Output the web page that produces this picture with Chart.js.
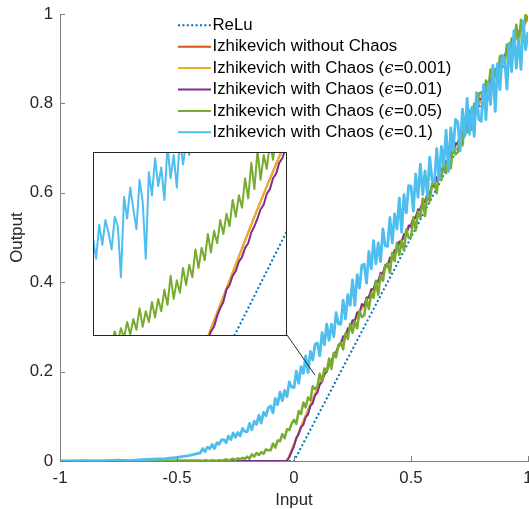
<!DOCTYPE html>
<html><head><meta charset="utf-8">
<script src="https://cdn.jsdelivr.net/npm/chart.js@4/dist/chart.umd.min.js"></script>
<style>
html,body{margin:0;padding:0;background:#fff;overflow:hidden}
#wrap{position:relative;width:529px;height:509px;background:#fff}
#main{position:absolute;left:0;top:0}
#insetBox{position:absolute;left:93px;top:152px;width:194px;height:184px;background:#fff}
#inset{display:block}
</style></head><body>
<div id="wrap"><canvas id="main" width="529" height="509"></canvas>
<div id="insetBox"><canvas id="inset" width="194" height="184"></canvas></div></div>
<script>
// ---------------- DATA ----------------
const seriesLabels = ['ReLu','Izhikevich without Chaos','Izhikevich with Chaos (ϵ=0.001)','Izhikevich with Chaos (ϵ=0.01)','Izhikevich with Chaos (ϵ=0.05)','Izhikevich with Chaos (ϵ=0.1)'];
const xTickValues = [-1,-0.5,0,0.5,1];
const xTickLabels = ['-1','-0.5','0','0.5','1'];
const yTickValues = [0,0.2,0.4,0.6,0.8,1];
const yTickLabels = ['0','0.2','0.4','0.6','0.8','1'];

const reluX = [-1,0,1];
const reluY = [0,0,1];

const smoothX = [-1,-0.03,-0.02,-0.01,0,0.02,0.04,0.06,0.08,0.1,0.15,0.2,0.3,0.4,0.5,0.6,0.7,0.8,0.9,1];
const noChaosY = [0,0,0.011,0.024,0.037,0.063,0.089,0.114,0.138,0.161,0.216,0.265,0.35,0.44,0.53,0.62,0.713,0.808,0.903,0.99];
const eps001Y  = [0,0,0.011,0.024,0.037,0.063,0.089,0.114,0.138,0.161,0.216,0.265,0.35,0.44,0.53,0.62,0.713,0.808,0.903,0.99];

const inputX = [
-1,-0.95,-0.9,-0.85,-0.8,-0.75,-0.7,-0.65,-0.6,-0.55,-0.5,-0.45,
-0.4,-0.39,-0.38,-0.37,-0.36,-0.35,-0.34,-0.33,-0.32,-0.31,
-0.3,-0.29,-0.28,-0.27,-0.26,-0.25,-0.24,-0.23,-0.22,-0.21,
-0.2,-0.19,-0.18,-0.17,-0.16,-0.15,-0.14,-0.13,-0.12,-0.11,
-0.1,-0.09,-0.08,-0.07,-0.06,-0.05,-0.04,-0.03,-0.02,-0.01,
0,0.01,0.02,0.03,0.04,0.05,0.06,0.07,0.08,0.09,
0.1,0.11,0.12,0.13,0.14,0.15,0.16,0.17,0.18,0.19,
0.2,0.21,0.22,0.23,0.24,0.25,0.26,0.27,0.28,0.29,
0.3,0.31,0.32,0.33,0.34,0.35,0.36,0.37,0.38,0.39,
0.4,0.41,0.42,0.43,0.44,0.45,0.46,0.47,0.48,0.49,
0.5,0.51,0.52,0.53,0.54,0.55,0.56,0.57,0.58,0.59,
0.6,0.61,0.62,0.63,0.64,0.65,0.66,0.67,0.68,0.69,
0.7,0.71,0.72,0.73,0.74,0.75,0.76,0.77,0.78,0.79,
0.8,0.81,0.82,0.83,0.84,0.85,0.86,0.87,0.88,0.89,
0.9,0.91,0.92,0.93,0.94,0.95,0.96,0.97,0.98,0.99,
1];

const eps01Y = [
0,0,0,0,0,0,0,0,0,0,0,0,
0,0,0,0,0,0,0,0,0,0,
0,0,0,0,0,0,0,0,0,0,
0,0,0,0,0,0,0,0,0,0,
0,0,0,0,0,0,0,0.001,0.009,0.021,
0.033,0.052,0.060,0.076,0.081,0.098,0.104,0.123,0.129,0.147,
0.153,0.171,0.177,0.195,0.199,0.218,0.220,0.238,0.241,0.258,
0.261,0.279,0.279,0.297,0.296,0.315,0.314,0.333,0.332,0.351,
0.347,0.366,0.366,0.384,0.384,0.402,0.401,0.421,0.419,0.439,
0.435,0.455,0.453,0.472,0.471,0.491,0.489,0.508,0.507,0.527,
0.524,0.545,0.543,0.563,0.561,0.581,0.579,0.599,0.597,0.617,
0.614,0.635,0.633,0.653,0.651,0.671,0.670,0.691,0.690,0.711,
0.709,0.731,0.730,0.751,0.749,0.771,0.769,0.791,0.789,0.811,
0.809,0.830,0.828,0.849,0.847,0.868,0.866,0.887,0.885,0.906,
0.903,0.924,0.921,0.942,0.939,0.960,0.956,0.976,0.972,0.992,
0.990];

const eps05Y = [
0,0,0,0,0,0,0,0,0.001,0,0.001,0.001,
0.001,0.000,0.002,0.001,0.000,0.002,0.001,0.000,0.002,0.001,
0.002,0.004,0.001,0.003,0.005,0.002,0.006,0.004,0.007,0.005,
0.010,0.005,0.015,0.010,0.018,0.013,0.020,0.016,0.026,0.024,
0.024,0.039,0.030,0.046,0.044,0.060,0.051,0.071,0.069,0.084,
0.092,0.083,0.112,0.105,0.131,0.120,0.142,0.136,0.167,0.161,
0.167,0.195,0.179,0.207,0.200,0.229,0.206,0.242,0.232,0.260,
0.265,0.250,0.286,0.273,0.307,0.287,0.312,0.297,0.336,0.322,
0.326,0.362,0.340,0.376,0.365,0.403,0.372,0.417,0.403,0.437,
0.442,0.421,0.466,0.447,0.488,0.461,0.492,0.471,0.518,0.499,
0.502,0.544,0.516,0.558,0.543,0.587,0.548,0.601,0.581,0.621,
0.624,0.599,0.651,0.629,0.675,0.644,0.679,0.655,0.708,0.686,
0.691,0.737,0.706,0.752,0.736,0.784,0.741,0.799,0.778,0.822,
0.825,0.798,0.851,0.827,0.876,0.840,0.877,0.849,0.906,0.881,
0.884,0.932,0.897,0.945,0.925,0.976,0.927,0.987,0.961,0.999,
0.985];

const eps1Y = [
0.000,0.000,0.001,0.000,0.001,0.002,0.001,0.003,0.004,0.005,0.008,0.012,
0.018,0.028,0.021,0.031,0.027,0.037,0.028,0.041,0.037,0.047,
0.048,0.041,0.056,0.048,0.063,0.053,0.064,0.056,0.073,0.066,
0.065,0.084,0.070,0.089,0.082,0.102,0.085,0.109,0.101,0.119,
0.123,0.108,0.140,0.126,0.154,0.135,0.158,0.144,0.177,0.165,
0.164,0.201,0.174,0.211,0.196,0.235,0.198,0.245,0.226,0.261,
0.264,0.235,0.287,0.260,0.306,0.270,0.306,0.278,0.332,0.307,
0.306,0.360,0.318,0.372,0.348,0.405,0.348,0.417,0.387,0.438,
0.440,0.398,0.469,0.430,0.493,0.441,0.488,0.446,0.519,0.481,
0.480,0.545,0.488,0.553,0.519,0.588,0.512,0.596,0.555,0.616,
0.615,0.559,0.642,0.590,0.664,0.596,0.649,0.593,0.680,0.628,
0.624,0.699,0.629,0.704,0.661,0.740,0.648,0.745,0.694,0.764,
0.759,0.694,0.787,0.727,0.811,0.731,0.791,0.726,0.824,0.764,
0.760,0.842,0.764,0.846,0.798,0.885,0.782,0.889,0.831,0.908,
0.901,0.832,0.935,0.871,0.963,0.879,0.945,0.876,0.984,0.920,
0.960];

// inset (zoomed) samples
const insetX = [
-0.160,-0.156,-0.152,-0.148,-0.144,-0.140,-0.136,-0.132,-0.128,-0.124,
-0.120,-0.116,-0.112,-0.108,-0.104,-0.100,-0.096,-0.092,-0.088,-0.084,
-0.080,-0.076,-0.072,-0.068,-0.064,-0.060,-0.056,-0.052,-0.048,-0.044,
-0.040,-0.036,-0.032,-0.028,-0.024,-0.020,-0.016,-0.012,-0.008,-0.004,
0.000,0.004,0.008,0.012,0.016,0.020,0.024,0.028,0.032,0.036,
0.040,0.044,0.048,0.052,0.056,0.060,0.064,0.068,0.072,0.076,
0.080,0.084,0.088,0.092];
const insetEps01Y = [
0,0,0,0,0,0,0,0,0,0,
0,0,0,0,0,0,0,0,0,0,
0,0,0,0,0,0,0,0,0,0,
0,0,0,0.002,0.006,0.011,0.015,0.019,0.025,0.028,
0.035,0.040,0.044,0.052,0.055,0.061,0.064,0.070,0.073,0.079,
0.082,0.089,0.093,0.098,0.104,0.107,0.114,0.117,0.124,0.127,
0.134,0.137,0.143,0.147];
const insetEps05Y = [
0.014,0.019,0.013,0.020,0.016,0.022,0.017,0.025,0.018,0.027,
0.021,0.031,0.023,0.033,0.026,0.040,0.028,0.038,0.031,0.044,
0.034,0.046,0.038,0.052,0.042,0.061,0.046,0.058,0.050,0.066,
0.055,0.068,0.060,0.078,0.066,0.079,0.071,0.088,0.076,0.090,
0.082,0.097,0.088,0.101,0.093,0.110,0.099,0.113,0.105,0.124,
0.111,0.134,0.117,0.142,0.123,0.139,0.130,0.148,0.136,0.152,
0.143,0.157,0.149,0.163];
const insetEps1Y = [
0.085,0.072,0.094,0.081,0.097,0.089,0.078,0.099,0.093,0.060,
0.112,0.098,0.118,0.104,0.091,0.123,0.109,0.072,0.128,0.113,
0.137,0.119,0.131,0.110,0.145,0.124,0.139,0.118,0.150,0.133,
0.147,0.139,0.158,0.146,0.166,0.152,0.171,0.160,0.176,0.168,
0.183,0.175,0.192,0.183,0.198,0.190,0.205,0.196,0.212,0.203,
0.218,0.209,0.224,0.215,0.229,0.221,0.235,0.226,0.240,0.232,
0.246,0.238,0.251,0.244];
const insetXRange = [-0.16, 0.09];
const insetYRange = [0.022, 0.141];
const zoomLinkPoint = [0.09, 0.192];

// ---------------- STYLE ----------------
const FONT = "'Liberation Sans', Arial, Helvetica, sans-serif";
const FS = 16.8;
const AXIS_GRAY = '#808080';
const TEXT_DARK = '#262626';
const colors = ['#0072BD','#D95319','#EDB120','#7E2F8E','#77AC30','#4DBEEE'];
const mainWidths = [2, 2, 2, 2, 2.5, 2.8];
const insetWidths = [2, 2, 2, 2, 2, 2];
const pts = (xs, ys) => xs.map((x, i) => ({x: x, y: ys[i]}));

function makeDatasets(sources, widths) {
  return sources.map((s, i) => ({
    label: seriesLabels[i],
    data: pts(s[0], s[1]),
    borderColor: colors[i],
    backgroundColor: colors[i],
    borderWidth: widths[i],
    borderDash: i === 0 ? [2, 2.4] : [],
    pointRadius: 0,
    fill: false,
    tension: 0,
    borderJoinStyle: 'round',
    order: 6 - i
  }));
}

const mainSources = [[reluX, reluY],[smoothX, noChaosY],[smoothX, eps001Y],[inputX, eps01Y],[inputX, eps05Y],[inputX, eps1Y]];
const insetSources = [[reluX, reluY],[smoothX, noChaosY],[smoothX, eps001Y],[insetX, insetEps01Y],[insetX, insetEps05Y],[insetX, insetEps1Y]];

const LEG = {x0: 178, x1: 211, tx: 212.5, y0: 25.3, dy: 21.4};
const INSET = {left: 93, top: 152, width: 194, height: 184};

const matlabPlugin = {
  id: 'matlabAxes',
  afterDraw(chart) {
    const ctx = chart.ctx, xs = chart.scales.x, ys = chart.scales.y, a = chart.chartArea;
    ctx.save();
    ctx.strokeStyle = AXIS_GRAY; ctx.lineWidth = 1; ctx.setLineDash([]);
    ctx.beginPath();
    xTickValues.forEach(v => { const px = Math.round(xs.getPixelForValue(v)) + 0.5; ctx.moveTo(px, a.bottom); ctx.lineTo(px, a.bottom - 5); });
    yTickValues.forEach(v => { const py = Math.round(ys.getPixelForValue(v)) + 0.5; ctx.moveTo(a.left, py); ctx.lineTo(a.left + 5, py); });
    ctx.stroke();
    // connector from inset corner to zoomed region
    ctx.strokeStyle = TEXT_DARK; ctx.lineWidth = 1;
    ctx.beginPath();
    ctx.moveTo(INSET.left + INSET.width, INSET.top + INSET.height - 1);
    ctx.lineTo(xs.getPixelForValue(zoomLinkPoint[0]), ys.getPixelForValue(zoomLinkPoint[1]));
    ctx.stroke();
    // legend
    chart.data.datasets.forEach((ds, i) => {
      const y = LEG.y0 + i * LEG.dy;
      ctx.beginPath();
      ctx.setLineDash(ds.borderDash || []);
      ctx.lineWidth = 2; ctx.strokeStyle = ds.borderColor;
      ctx.moveTo(LEG.x0, y); ctx.lineTo(LEG.x1, y); ctx.stroke();
      ctx.setLineDash([]);
      ctx.fillStyle = '#000'; ctx.textBaseline = 'middle'; ctx.textAlign = 'left';
      let x = LEG.tx;
      const parts = ds.label.split('ϵ');
      parts.forEach((p, k) => {
        if (k > 0) {
          ctx.font = "italic 16px 'DejaVu Serif', serif";
          ctx.fillText('ϵ', x + 0.5, y + 0.5); x += ctx.measureText('ϵ').width + 1;
        }
        ctx.font = FS + "px " + FONT;
        ctx.fillText(p, x, y); x += ctx.measureText(p).width;
      });
    });
    ctx.restore();
  }
};

new Chart(document.getElementById('main'), {
  type: 'line',
  data: { datasets: makeDatasets(mainSources, mainWidths) },
  options: {
    responsive: false, animation: false, devicePixelRatio: 1, events: [],
    layout: { padding: { left: 0, right: 1, top: 14, bottom: 0 } },
    plugins: { legend: { display: false }, tooltip: { enabled: false } },
    scales: {
      x: {
        type: 'linear', min: -1, max: 1,
        grid: { display: false, drawTicks: false, tickLength: 0 },
        border: { display: true, color: AXIS_GRAY, width: 1 },
        afterBuildTicks: s => { s.ticks = xTickValues.map(v => ({value: v})); },
        ticks: { padding: 7, color: TEXT_DARK, maxRotation: 0, autoSkip: false,
                 font: { family: FONT, size: FS, lineHeight: 1.2 },
                 callback: (v, i) => xTickLabels[i] },
        title: { display: true, text: 'Input', color: TEXT_DARK, font: { family: FONT, size: FS, lineHeight: 1 }, padding: { top: 0, bottom: 0 } },
        afterFit: s => { s.height = 48; s.paddingLeft = 0; s.paddingRight = 0; }
      },
      y: {
        type: 'linear', min: 0, max: 1,
        grid: { display: false, drawTicks: false, tickLength: 0 },
        border: { display: true, color: AXIS_GRAY, width: 1 },
        afterBuildTicks: s => { s.ticks = yTickValues.map(v => ({value: v})); },
        ticks: { padding: 7, color: TEXT_DARK, autoSkip: false,
                 font: { family: FONT, size: FS, lineHeight: 1.2 },
                 callback: (v, i) => yTickLabels[i] },
        title: { display: true, text: 'Output', color: TEXT_DARK, font: { family: FONT, size: FS, lineHeight: 1 }, padding: { top: 9, bottom: 0 } },
        afterFit: s => { s.width = 60; s.paddingTop = 0; s.paddingBottom = 0; }
      }
    }
  },
  plugins: [matlabPlugin]
});

const insetBorder = {
  id: 'insetBorder',
  afterDraw(chart) {
    const ctx = chart.ctx;
    ctx.save();
    ctx.strokeStyle = TEXT_DARK; ctx.lineWidth = 1; ctx.setLineDash([]);
    ctx.strokeRect(0.5, 0.5, chart.width - 1, chart.height - 1);
    ctx.restore();
  }
};

new Chart(document.getElementById('inset'), {
  type: 'line',
  data: { datasets: makeDatasets(insetSources, insetWidths) },
  options: {
    responsive: false, animation: false, devicePixelRatio: 1, events: [],
    layout: { padding: 0 },
    plugins: { legend: { display: false }, tooltip: { enabled: false } },
    scales: {
      x: { type: 'linear', display: false, min: insetXRange[0], max: insetXRange[1] },
      y: { type: 'linear', display: false, min: insetYRange[0], max: insetYRange[1] }
    }
  },
  plugins: [insetBorder]
});
</script>
</body></html>
